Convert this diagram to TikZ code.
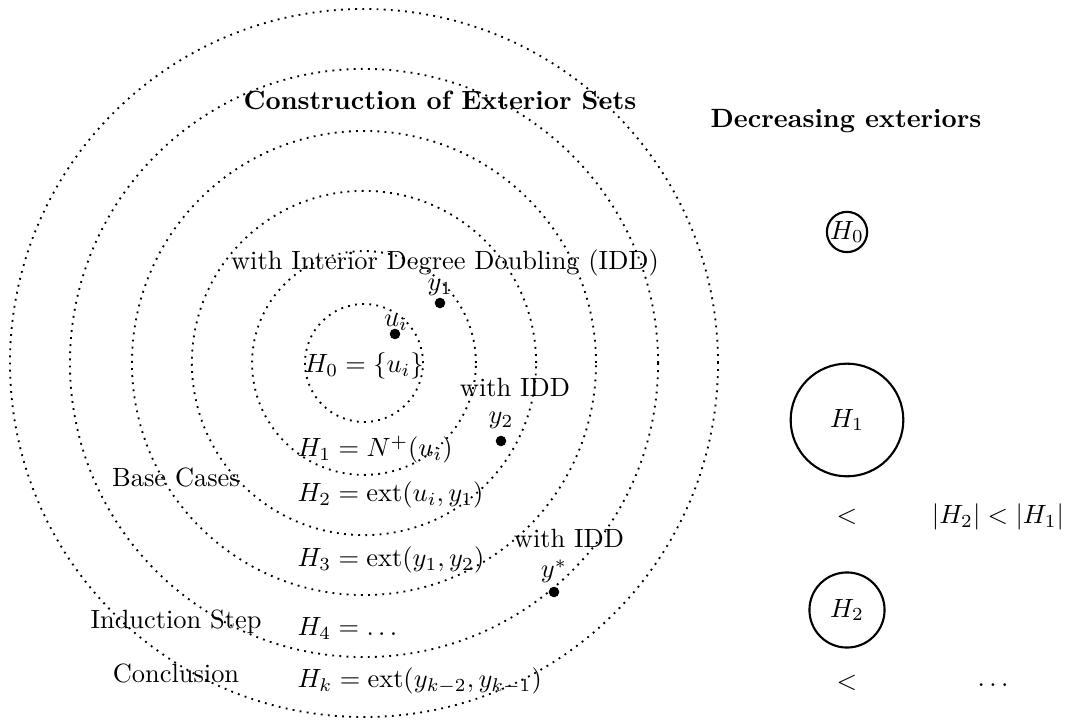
\documentclass[tikz,border=0pt]{standalone}
\begin{document}
\begin{tikzpicture}[x=0.3788pt,y=-0.3788pt,
  ring/.style={draw, dotted, line width=0.7pt},
  dotnode/.style={circle, fill, inner sep=0pt, minimum size=4pt},
  txt/.style={anchor=base, inner sep=0pt},
  setnode/.style={circle, draw, thick, inner sep=0pt}]
\useasboundingbox (0,0) rectangle (1068,721);
\coordinate (c) at (364,363);
\draw[ring] (c) circle[radius=22.35pt];
\draw[ring] (c) circle[radius=42.4pt];
\draw[ring] (c) circle[radius=65.2pt];
\draw[ring] (c) circle[radius=87.9pt];
\draw[ring] (c) circle[radius=111.4pt];
\draw[ring] (c) circle[radius=134.1pt];

\node[txt, font=\bfseries] (title) at (440,110) {Construction of Exterior Sets};
\node[txt, font=\bfseries] (dectitle) at (846,128) {Decreasing exteriors};
\node[txt] (iddA) at (445,270) {with Interior Degree Doubling (IDD)};
\node[dotnode] (y1) at (440,303) {};
\node[txt] (y1l) at (440,291) {$y_1$};
\node[dotnode] (ui) at (395,334) {};
\node[txt] (uil) at (396,327) {$u_i$};
\node[txt] (H0t) at (364,373) {$H_0 = \{u_i\}$};
\node[txt] (iddB) at (515,397) {with IDD};
\node[dotnode] (y2) at (501,441) {};
\node[txt] (y2l) at (501,424) {$y_2$};
\node[txt, anchor=base west] (H1t) at (297,457) {$H_1 = N^+(u_i)$};
\node[txt, anchor=base west] (H2t) at (297,502) {$H_2 = \mathrm{ext}(u_i, y_1)$};
\node[txt, anchor=base west] (H3t) at (297,567) {$H_3 = \mathrm{ext}(y_1, y_2)$};
\node[txt, anchor=base west] (H4t) at (297,636) {$H_4 = \ldots$};
\node[txt, anchor=base west] (Hkt) at (297,688) {$H_k = \mathrm{ext}(y_{k-2}, y_{k-1})$};
\node[txt] (base) at (176,487) {Base Cases};
\node[txt] (ind) at (176,629) {Induction Step};
\node[txt] (concl) at (176,683) {Conclusion};
\node[txt] (iddC) at (569,548) {with IDD};
\node[dotnode] (ys) at (554,592) {};
\node[txt] (ysl) at (554,578) {$y^*$};

\node[setnode, minimum size=15pt] (R0) at (847,232) {$H_0$};
\node[setnode, minimum size=1.5cm] (R1) at (847,420) {$H_1$};
\node[setnode, minimum size=1cm] (R2) at (847,610) {$H_2$};
\node (lt1) at (847,517) {$<$};
\node (lt2) at (847,683) {$<$};
\node (cmp) at (998,517) {$|H_2| < |H_1|$};
\node (dots) at (993,685) {$\ldots$};
\end{tikzpicture}
\end{document}
